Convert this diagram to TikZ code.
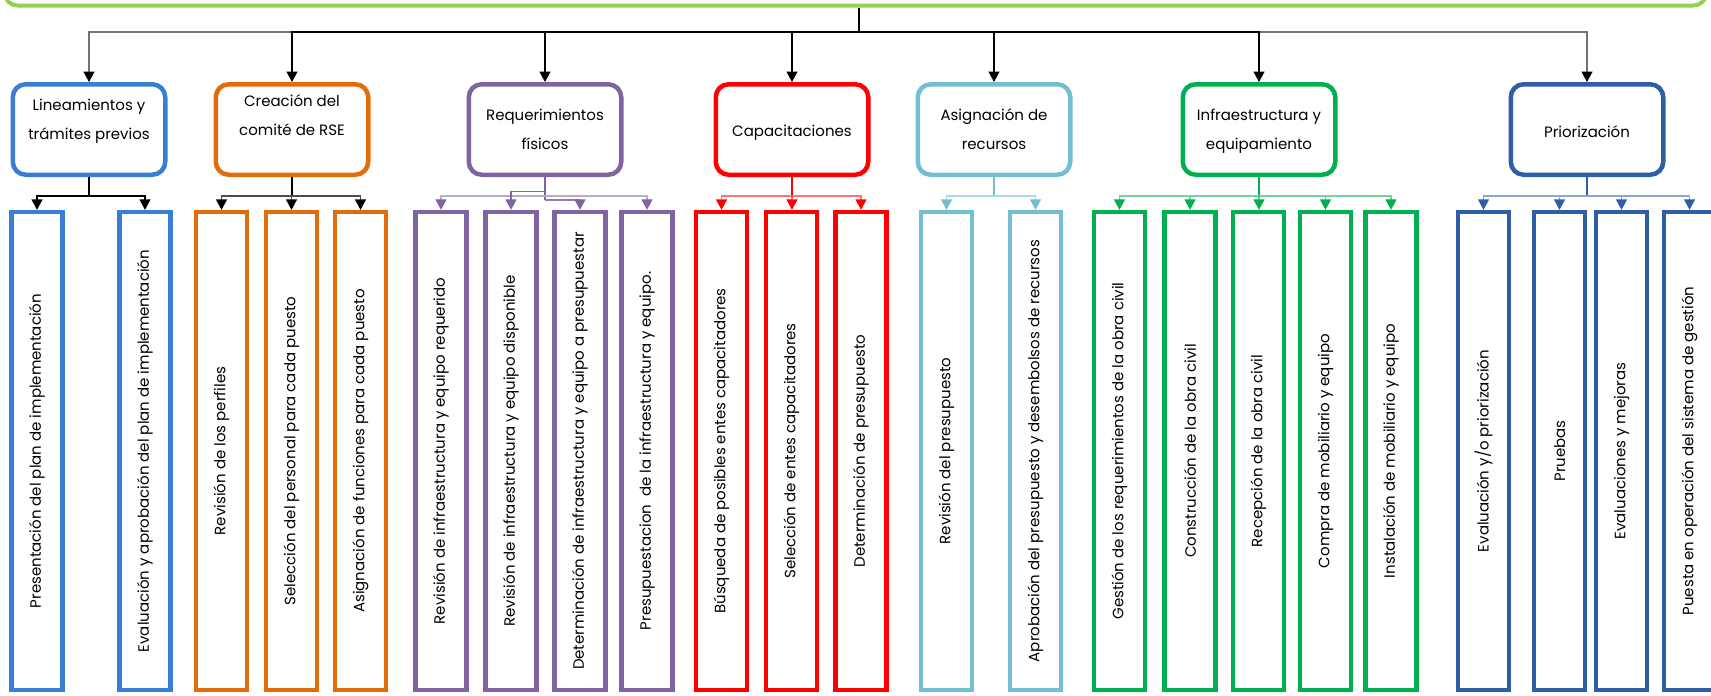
\documentclass[tikz,border=0pt]{standalone}
\usepackage{fontspec}
\usepackage{graphicx}
\setmainfont{Poppins}
\usetikzlibrary{arrows.meta}

\definecolor{verdeclaro}{RGB}{146,208,80}
\definecolor{azulclaro}{RGB}{58,125,212}
\definecolor{naranja}{RGB}{227,108,10}
\definecolor{morado}{RGB}{128,100,162}
\definecolor{rojo}{RGB}{255,0,0}
\definecolor{celeste}{RGB}{116,190,212}
\definecolor{verde}{RGB}{0,176,80}
\definecolor{azul}{RGB}{46,94,166}

\tikzset{
	grupo/.style={draw=#1, line width=4.5pt, rounded corners=13pt, minimum width=152.5pt, minimum height=90.5pt, align=center, font=\fontsize{15}{29}\selectfont},
	tarea/.style={draw=#1, line width=4.3pt, minimum width=51pt, minimum height=478pt, inner sep=0pt, font=\fontsize{15}{18}\selectfont},
	linea/.style={draw=#1, line width=1.3pt},
	punta/.style={-{Triangle[width=11pt,length=10.5pt,color=#1]}},
}
\newcommand{\vlabel}[1]{\rotatebox{90}{#1}}

\begin{document}
\begin{tikzpicture}[x=1pt,y=-1pt]
		\useasboundingbox (0,0) rectangle (1711,696);
		
		\node[draw=verdeclaro, line width=4pt, rounded corners=13pt, minimum width=1702pt, minimum height=80pt] (top) at (855.5,-34.5) {};
		
		% primer nivel
		\node[grupo=azulclaro, text depth=21pt] (lin) at (89,129.5) {Lineamientos y\\trámites previos};
		\node[grupo=naranja, text depth=28pt] (cre) at (292,129.5) {Creación del\\comité de RSE};
		\node[grupo=morado, text depth=0pt] (req) at (545,129.5) {Requerimientos\\físicos};
		\node[grupo=rojo, text height=17pt] (cap) at (792,129.5) {Capacitaciones};
		\node[grupo=celeste, text depth=0pt] (asi) at (994,129.5) {Asignación de\\recursos};
		\node[grupo=verde, text depth=0pt] (inf) at (1259,129.5) {Infraestructura y\\equipamiento};
		\node[grupo=azul, text height=17pt] (pri) at (1587,129.5) {Priorización};
		
		% segundo nivel
		\node[tarea=azulclaro] (lin1) at (37,451) {\vlabel{Presentación del plan de implementación}};
		\node[tarea=azulclaro] (lin2) at (145,451) {\vlabel{Evaluación y aprobación del plan de implementación}};
		
		\node[tarea=naranja] (cre1) at (221.5,451) {\vlabel{Revisión de los perfiles}};
		\node[tarea=naranja] (cre2) at (291.5,451) {\vlabel{Selección del personal para cada puesto}};
		\node[tarea=naranja] (cre3) at (360.5,451) {\vlabel{Asignación de funciones para cada puesto}};
		
		\node[tarea=morado] (req1) at (441,451) {\vlabel{Revisión de infraestructura y equipo requerido}};
		\node[tarea=morado] (req2) at (511,451) {\vlabel{Revisión de infraestructura y equipo disponible}};
		\node[tarea=morado] (req3) at (580,451) {\vlabel{Determinación de infraestructura y equipo a presupuestar}};
		\node[tarea=morado] (req4) at (647,451) {\vlabel{Presupuestacion\ \ de la infraestructura y equipo.}};
		
		\node[tarea=rojo] (cap1) at (721.5,451) {\vlabel{Búsqueda de posibles entes capacitadores}};
		\node[tarea=rojo] (cap2) at (791.5,451) {\vlabel{Selección de entes capacitadores}};
		\node[tarea=rojo] (cap3) at (861,451) {\vlabel{Determinación de presupuesto}};
		
		\node[tarea=celeste] (asi1) at (946.5,451) {\vlabel{Revisión del presupuesto}};
		\node[tarea=celeste] (asi2) at (1035.5,451) {\vlabel{Aprobación del presupuesto y desembolsos de recursos}};
		
		\node[tarea=verde] (inf1) at (1119.5,451) {\vlabel{Gestión de los requerimientos de la obra civil}};
		\node[tarea=verde] (inf2) at (1190,451) {\vlabel{Construcción de la obra civil}};
		\node[tarea=verde] (inf3) at (1258.5,451) {\vlabel{Recepción de la obra civil}};
		\node[tarea=verde] (inf4) at (1325.5,451) {\vlabel{Compra de mobiliario y equipo}};
		\node[tarea=verde] (inf5) at (1391,451) {\vlabel{Instalación de mobiliario y equipo}};
		
		\node[tarea=azul] (pri1) at (1483.5,451) {\vlabel{Evaluación y/o priorización}};
		\node[tarea=azul] (pri2) at (1559.5,451) {\vlabel{Pruebas}};
		\node[tarea=azul] (pri3) at (1621.5,451) {\vlabel{Evaluaciones y mejoras}};
		\node[tarea=azul] (pri4) at (1689.5,451) {\vlabel{Puesta en operación del sistema de gestión}};
		
		% flechas del primer nivel
		\coordinate (hub) at (859,32);
		\draw[linea=black!55, punta=black] (hub) -| (lin);
		\draw[linea=black!55, punta=black] (hub) -| (pri);
		\foreach \g in {cre,req,cap,asi,inf}
			\draw[linea=black, punta=black] (hub) -| (\g);
		\draw[linea=black] (top.south -| hub) -- (hub);
		
		% flechas del segundo nivel
		\coordinate (linbus) at (89,196);
		\draw[linea=black] (lin) -- (linbus);
		\foreach \t in {lin1,lin2}
			\draw[linea=black, punta=black] (linbus) -| (\t);
		
		\coordinate (crebus) at (292,196);
		\draw[linea=black] (cre) -- (crebus);
		\foreach \t in {cre1,cre2,cre3}
			\draw[linea=black!70, punta=black] (crebus) -| (\t);
		
		\coordinate (reqbus) at (545,196);
		\coordinate (reqa) at (545,191.5);
		\coordinate (reqb) at (545,200);
		\draw[linea=morado] (req) -- (reqb);
		\draw[linea=morado!55, punta=morado] (reqbus) -| (req1);
		\draw[linea=morado!55, punta=morado] (reqbus) -| (req4);
		\draw[linea=morado, punta=morado] (reqa) -| (req2);
		\draw[linea=morado!85, punta=morado] (reqb) -| (req3);
		
		\coordinate (capbus) at (792,196);
		\draw[linea=rojo] (cap) -- (capbus);
		\foreach \t in {cap1,cap3}
			\draw[linea=rojo!55, punta=rojo] (capbus) -| (\t);
		\draw[linea=rojo, punta=rojo] (capbus) -- (cap2);
		
		\coordinate (asibus) at (994,196);
		\draw[linea=celeste] (asi) -- (asibus);
		\foreach \t in {asi1,asi2}
			\draw[linea=celeste!60, punta=celeste] (asibus) -| (\t);
		
		\coordinate (infbus) at (1259,196);
		\draw[linea=verde] (inf) -- (infbus);
		\foreach \t in {inf1,inf2,inf4,inf5}
			\draw[linea=verde!55, punta=verde] (infbus) -| (\t);
		\draw[linea=verde, punta=verde] (infbus) -- (inf3);
		
		\coordinate (pribus) at (1587,196);
		\draw[linea=azul] (pri) -- (pribus);
		\foreach \t in {pri1,pri2,pri3,pri4}
			\draw[linea=azul!55, punta=azul] (pribus) -| (\t);
		\end{tikzpicture}
\end{document}
